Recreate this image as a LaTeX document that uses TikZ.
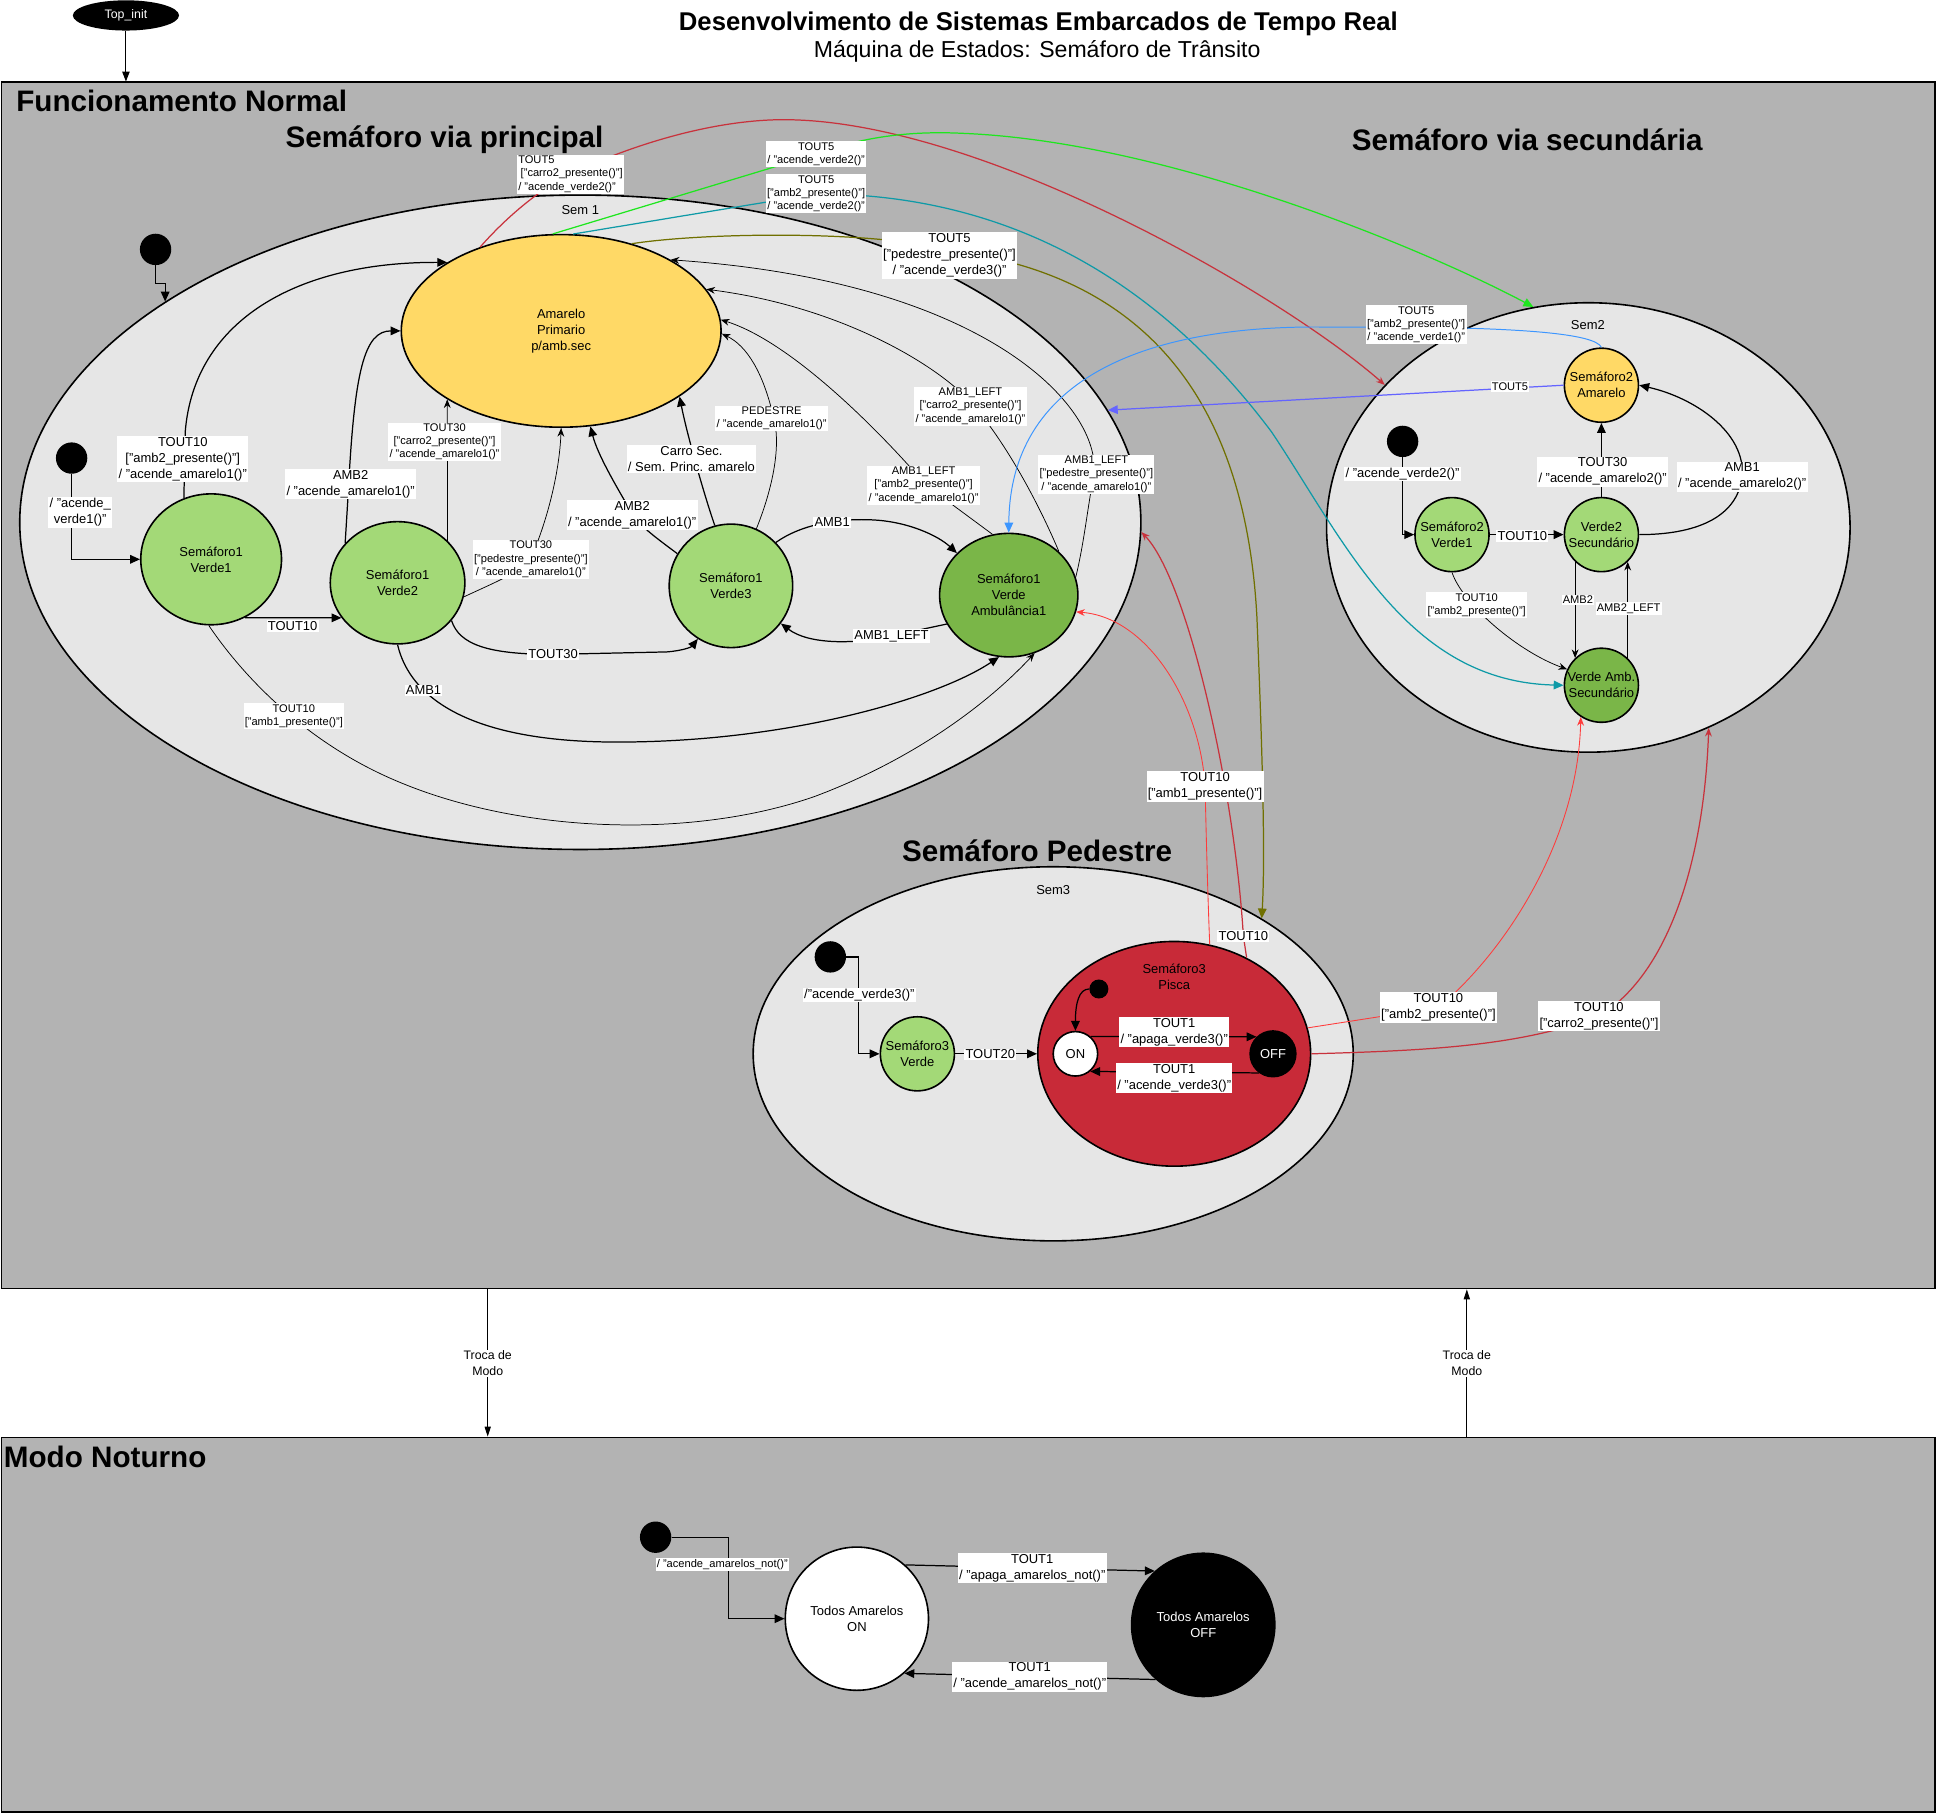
\documentclass[tikz,border=0pt]{standalone}
\usepackage{fontspec}
\setmainfont{Liberation Sans}
\usepackage{tikz}
\usetikzlibrary{shapes.geometric,arrows.meta}

\definecolor{cinza}{HTML}{B3B3B3}
\definecolor{cinzaclaro}{HTML}{E6E6E6}
\definecolor{amarelo}{HTML}{FFD966}
\definecolor{verde}{HTML}{A3D977}
\definecolor{verdeesc}{HTML}{7AB648}
\definecolor{vermelho}{HTML}{C82A38}
\definecolor{vermelholinha}{HTML}{C8323C}
\definecolor{vermelhoclaro}{HTML}{FF3B3B}
\definecolor{verdelinha}{HTML}{1EE61E}
\definecolor{azulpetroleo}{HTML}{0E9AA7}
\definecolor{oliva}{HTML}{707000}
\definecolor{azulclaro}{HTML}{3C96FF}
\definecolor{azul}{HTML}{6464FF}

\tikzset{
  estado/.style={ellipse,draw,line width=1.3pt,inner sep=0pt,align=center,font=\fontsize{10.5}{13}\selectfont},
  regiao/.style={ellipse,draw,fill=cinzaclaro,line width=1.3pt,inner sep=0pt},
  caixa/.style={rectangle,draw,fill=cinza,line width=1.3pt,inner sep=0pt,anchor=north west},
  inicial/.style={circle,fill=black,inner sep=0pt,minimum size=25.4pt},
  texto/.style={align=center,inner sep=0pt,font=\fontsize{10.5}{13}\selectfont},
  rotulo/.style={fill=white,inner sep=1pt,align=center,font=\fontsize{10.5}{13}\selectfont},
  rotulopq/.style={fill=white,inner sep=1pt,align=center,font=\fontsize{9}{10.7}\selectfont},
  titulo/.style={inner sep=0pt,font=\bfseries\fontsize{24}{28}\selectfont},
  trans/.style={line width=1pt,-{Triangle[length=8pt,width=7pt]}},
  transfina/.style={line width=0.6pt,-{Stealth[length=7pt,width=5.5pt]}}
}

\begin{document}
\begin{tikzpicture}[x=1pt,y=-1pt]
\useasboundingbox (0,0) rectangle (1568,1468.4);
%Regioes
\node[caixa,minimum width=1566,minimum height=977] (fn) at (0.6,66) {};
\node[caixa,minimum width=1566,minimum height=303.5] (mn) at (0.6,1163.5) {};
\node[regiao,minimum width=908,minimum height=530] (sem1) at (470,423) {};
\node[regiao,minimum width=424,minimum height=364] (sem2) at (1286.4,427.2) {};
\node[regiao,minimum width=486,minimum height=303] (sem3) at (853,853.5) {};
\coordinate (m1) at (395,1104);
\coordinate (m2) at (1188,1104);

%Titulos
\node[font=\bfseries\fontsize{20.8}{24}\selectfont] (tit) at (841,19.5) {Desenvolvimento de Sistemas Embarcados de Tempo Real};
\node[font=\fontsize{18.7}{22}\selectfont] (subtit) at (840,41.5) {Máquina de Estados: Semáforo de Trânsito};
\node[titulo,anchor=west] (tfn) at (13,82) {Funcionamento Normal};
\node[titulo] (tvp) at (360,113.5) {Semáforo via principal};
\node[titulo] (tvs) at (1237,113) {Semáforo via secundária};
\node[titulo] (tped) at (840,689) {Semáforo Pedestre};
\node[titulo,anchor=west] (tmn) at (3,1180) {Modo Noturno};
\node[ellipse,fill=black,text=white,inner sep=0pt,minimum width=86,minimum height=24.5,font=\fontsize{10}{12}\selectfont] (topinit) at (102,12.5) {Top\_init};
\node[texto] (sem1t) at (470,170) {Sem 1};
\node[texto] (sem2t) at (1286,263) {Sem2};
\node[texto] (sem3t) at (853,721) {Sem3};

%Estados Sem1
\node[estado,fill=amarelo,minimum width=259,minimum height=156] (amar1) at (454.5,268) {Amarelo\\Primario\\p/amb.sec};
\node[estado,fill=verde,minimum width=114,minimum height=106] (v1) at (171,453) {Semáforo1\\Verde1};
\node[estado,fill=verde,minimum width=109,minimum height=99] (v2) at (322,472) {Semáforo1\\Verde2};
\node[estado,fill=verde,minimum width=100,minimum height=100] (v3) at (592,474.5) {Semáforo1\\Verde3};
\node[estado,fill=verdeesc,minimum width=112,minimum height=100] (amb1) at (817,482) {Semáforo1\\Verde\\Ambulância1};
\node[inicial] (i1) at (126,202) {};
\node[inicial] (i1b) at (58,371) {};

%Estados Sem2
\node[estado,fill=amarelo,minimum size=60] (amar2) at (1297,312) {};
\node[estado,fill=verde,minimum size=60] (s2v1) at (1176,433) {};
\node[estado,fill=verde,minimum size=60] (s2v2) at (1297,433) {};
\node[estado,fill=verdeesc,minimum size=60] (s2amb) at (1297,555) {};
\node[inicial] (i2) at (1136,357.5) {};

%Estados Sem3
\node[estado,fill=verde,minimum size=60] (s3v) at (743,853.5) {};
\node[estado,fill=vermelho,minimum width=221,minimum height=182] (pisca) at (951,853.5) {};
\node[estado,fill=white,minimum size=36] (on) at (871,853.5) {ON};
\node[estado,fill=black,text=white,minimum size=37] (off) at (1031,853.5) {OFF};
\node[inicial] (i3) at (672.5,775) {};
\node[inicial,minimum size=15.4pt] (i3b) at (890,801) {};
\node[texto] (piscat) at (951,791) {Semáforo3\\Pisca};
\foreach \n/\rot in {amar2/{Semáforo2\\Amarelo},s2v1/{Semáforo2\\Verde1},s2v2/{Verde2\\Secundário},s2amb/{Verde Amb.\\Secundário},s3v/{Semáforo3\\Verde}}
  \node[texto] (t\n) at (\n) {\rot};

%Estados Modo Noturno
\node[estado,fill=white,minimum size=116] (aon) at (694,1311) {Todos Amarelos\\ON};
\node[estado,fill=black,text=white,minimum size=116] (aoff) at (974.5,1316) {Todos Amarelos\\OFF};
\node[inicial] (i4) at (531,1245) {};

%Transicoes Sem1
\draw[line width=0.8pt,-{Triangle[length=8pt,width=6pt]}] (topinit.south) -- (topinit.south |- fn.north);
\draw[trans] (i1.south) -- ++(0,15) -| (sem1.152);
\draw[trans] (i1b.south) |- (v1.west);
\draw[trans] (v1.114) -- (150,350) .. controls (157,260) and (240,212) .. (amar1.149);
\draw[trans] (v1.-60) -- (v2.-148);
\draw[trans] (v2.143) -- (282,400) .. controls (287,300) and (295,268) .. (amar1.180);
\draw[transfina] (v2.40) -- (amar1.-149);
\draw[transfina] (v2.-12) .. controls (400,472) and (425,462) .. (430,452) .. controls (442,425) and (453,385) .. (amar1.south);
\draw[trans] (v2.-35) .. controls (372,522) and (395,530) .. (448,530) -- (540,528) .. controls (553,527) and (560,524) .. (v3.-122);
\draw[trans] (v2.-90) .. controls (332,565) and (380,601) .. (500,601) .. controls (640,601) and (760,565) .. (amb1.-99);
\draw[transfina] (v1.-92) .. controls (195,545) and (245,600) .. (320,632) .. controls (420,675) and (560,680) .. (660,645) .. controls (740,615) and (800,570) .. (amb1.-66);
\draw[trans] (v3.149) .. controls (532,436) and (518,426) .. (512,416) .. controls (498,392) and (484,368) .. (amar1.-73);
\draw[trans] (v3.105) .. controls (570,400) and (556,350) .. (amar1.-29);
\draw[transfina] (v3.66) .. controls (624,400) and (634,362) .. (626,336) .. controls (618,302) and (605,280) .. (amar1.-1);
\draw[trans] (v3.44) .. controls (650,424) and (680,420) .. (705,421) .. controls (735,422) and (760,434) .. (amb1.141);
\draw[trans] (amb1.-155) -- (722,515) .. controls (692,522) and (655,522) .. (v3.-37);
\draw[transfina] (amb1.105) -- (750,393) .. controls (722,360) and (645,278) .. (amar1.4);
\draw[transfina] (amb1.41) .. controls (840,405) and (815,360) .. (790,330) .. controls (762,296) and (680,248) .. (amar1.16);
\draw[transfina] (amb1.15) .. controls (878,440) and (881,410) .. (886,384) .. controls (892,330) and (800,228) .. (amar1.33);

%Transicoes entre semaforos
\draw[transfina,line width=1pt,vermelholinha] (amar1.134) .. controls (410,176) and (440,150) .. (470,137) .. controls (540,106) and (600,96) .. (640,97) .. controls (800,100) and (1040,240) .. (sem2.145);
\draw[trans,verdelinha] (amar1.95) -- (661,125) .. controls (700,110) and (740,106) .. (780,108) .. controls (950,115) and (1160,205) .. (sem2.104);
\draw[trans,azulpetroleo] (amar1.83) -- (661,157) .. controls (820,157) and (940,230) .. (1030,350) .. controls (1090,440) and (1140,552) .. (s2amb.west);
\draw[trans,oliva] (amar1.51) .. controls (560,190) and (650,188) .. (714,194) -- (824,214) .. controls (950,250) and (1010,350) .. (1018,500) .. controls (1022,600) and (1025,690) .. (sem3.33);
\draw[trans,line width=0.8pt,azulclaro] (amar2.north) .. controls (1292,270) and (1230,266) .. (1147,265) -- (1080,265) .. controls (940,262) and (818,300) .. (amb1.north);
\draw[trans,azul] (amar2.west) -- (sem1.12);
\draw[transfina,line width=1pt,vermelholinha] (pisca.53) -- (1007,758) .. controls (1000,640) and (962,470) .. (sem1.-1);
\draw[transfina,line width=0.7pt,vermelhoclaro] (pisca.72) .. controls (978,720) and (977,680) .. (976,637) .. controls (972,570) and (930,500) .. (amb1.-14);
\draw[transfina,line width=0.7pt,vermelhoclaro] (pisca.11) -- (1165,816) .. controls (1220,770) and (1278,680) .. (s2amb.-123);
\draw[transfina,line width=1pt,vermelholinha] (pisca.east) .. controls (1150,851) and (1230,848) .. (1295,823) .. controls (1350,790) and (1380,700) .. (sem2.-59);

%Transicoes Sem2
\draw[trans] (i2.south) |- (s2v1.west);
\draw[trans] (s2v1.east) -- (s2v2.west);
\draw[trans] (s2v2.north) -- (amar2.south);
\draw[trans] (s2v2.east) .. controls (1372,433) and (1407,420) .. (1411,386) .. controls (1414,350) and (1372,322) .. (amar2.east);
\draw[transfina] (s2v1.south) .. controls (1185,490) and (1230,528) .. (s2amb.155);
\draw[transfina] (s2v2.-134) -- (s2amb.134);
\draw[transfina] (s2amb.46) -- (s2v2.-46);

%Transicoes Sem3
\draw[trans] (i3.east) -- ++(10,0) |- (s3v.west);
\draw[trans] (s3v.east) -- (pisca.west);
\draw[trans] (i3b.west) .. controls (874,801) and (871,812) .. (on.north);
\draw[trans] (on.49) -- (off.134);
\draw[trans] (off.-126) -- (on.-50);

%Transicoes Modo Noturno
\draw[trans] (i4.east) -- ++(46,0) |- (aon.west);
\draw[trans] (aon.48) -- (aoff.132);
\draw[trans] (aoff.-131) -- (aon.-49);
\draw[line width=0.7pt,-{Triangle[length=8pt,width=5pt]}] (fn.south -| m1) -- (mn.north -| m1);
\draw[line width=0.7pt,-{Triangle[length=8pt,width=5pt]}] (mn.north -| m2) -- (fn.south -| m2);

%Rotulos
\node[rotulo] (t1) at (148,372) {TOUT10\\{}["amb2\_presente()"]\\/ "acende\_amarelo1()"};
\node[rotulo] (t2) at (237,507) {TOUT10};
\node[rotulo] (t3) at (284,392) {AMB2\\/ "acende\_amarelo1()"};
\node[rotulopq] (t4) at (360,358) {TOUT30\\{}["carro2\_presente()"]\\/ "acende\_amarelo1()"};
\node[rotulopq] (t5) at (430,453) {TOUT30\\{}["pedestre\_presente()"]\\/ "acende\_amarelo1()"};
\node[rotulo] (t6) at (448,530) {TOUT30};
\node[rotulo] (t7) at (343,559) {AMB1};
\node[rotulopq] (t8) at (238,580) {TOUT10\\{}["amb1\_presente()"]};
\node[rotulo] (t9) at (512,417) {AMB2\\/ "acende\_amarelo1()"};
\node[rotulo] (t10) at (560,372) {Carro Sec.\\/ Sem. Princ. amarelo};
\node[rotulopq] (t11) at (625,339) {PEDESTRE\\/ "acende\_amarelo1()"};
\node[rotulo] (t12) at (674,423) {AMB1};
\node[rotulo] (t13) at (722,515) {AMB1\_LEFT};
\node[rotulopq] (t14) at (748,393) {AMB1\_LEFT\\{}["amb2\_presente()"]\\/ "acende\_amarelo1()"};
\node[rotulopq] (t15) at (786,329) {AMB1\_LEFT\\{}["carro2\_presente()"]\\/ "acende\_amarelo1()"};
\node[rotulopq] (t16) at (888,384) {AMB1\_LEFT\\{}["pedestre\_presente()"]\\/ "acende\_amarelo1()"};
\node[rotulopq,align=left] (t17) at (462,141) {TOUT5\\\hspace*{2pt}["carro2\_presente()"]\\/ "acende\_verde2()"};
\node[rotulopq] (t18) at (661,125) {TOUT5\\/ "acende\_verde2()"};
\node[rotulopq] (t19) at (661,157) {TOUT5\\{}["amb2\_presente()"]\\/ "acende\_verde2()"};
\node[rotulo] (t20) at (769,207) {TOUT5\\{}["pedestre\_presente()"]\\/ "acende\_verde3()"};
\node[rotulopq] (t21) at (1147,263) {TOUT5\\{}["amb2\_presente()"]\\/ "acende\_verde1()"};
\node[rotulopq] (t22) at (1223,313) {TOUT5};
\node[rotulo] (t23) at (1136,384) {/ "acende\_verde2()"};
\node[rotulo] (t24) at (1233,434) {TOUT10};
\node[rotulo] (t25) at (1298,382) {TOUT30\\/ "acende\_amarelo2()"};
\node[rotulo] (t26) at (1411,386) {AMB1\\/ "acende\_amarelo2()"};
\node[rotulopq] (t27) at (1196,490) {TOUT10\\{}["amb2\_presente()"]};
\node[rotulopq] (t28) at (1278,486) {AMB2};
\node[rotulopq] (t29) at (1319,493) {AMB2\_LEFT};
\node[rotulo] (t30) at (696,806) {/"acende\_verde3()"};
\node[rotulo] (t31) at (802,854) {TOUT20};
\node[rotulo] (t32) at (951,836) {TOUT1\\/ "apaga\_verde3()"};
\node[rotulo] (t33) at (951,873) {TOUT1\\/ "acende\_verde3()"};
\node[rotulo] (t34) at (1007,758) {TOUT10};
\node[rotulo] (t35) at (976,637) {TOUT10\\{}["amb1\_presente()"]};
\node[rotulo] (t36) at (1165,816) {TOUT10\\{}["amb2\_presente()"]};
\node[rotulo] (t37) at (1295,823) {TOUT10\\{}["carro2\_presente()"]};
\node[rotulo] (t38) at (65,415) {/ "acende\_\\verde1()"};
\node[rotulopq] (t39) at (585,1267) {/ "acende\_amarelos\_not()"};
\node[rotulo] (t40) at (836,1270) {TOUT1\\/ "apaga\_amarelos\_not()"};
\node[rotulo] (t41) at (834,1358) {TOUT1\\/ "acende\_amarelos\_not()"};
\node[rotulo,font=\fontsize{10}{12.4}\selectfont] (t42) at (m1) {Troca de\\Modo};
\node[rotulo,font=\fontsize{10}{12.4}\selectfont] (t43) at (m2) {Troca de\\Modo};
\end{tikzpicture}
\end{document}
